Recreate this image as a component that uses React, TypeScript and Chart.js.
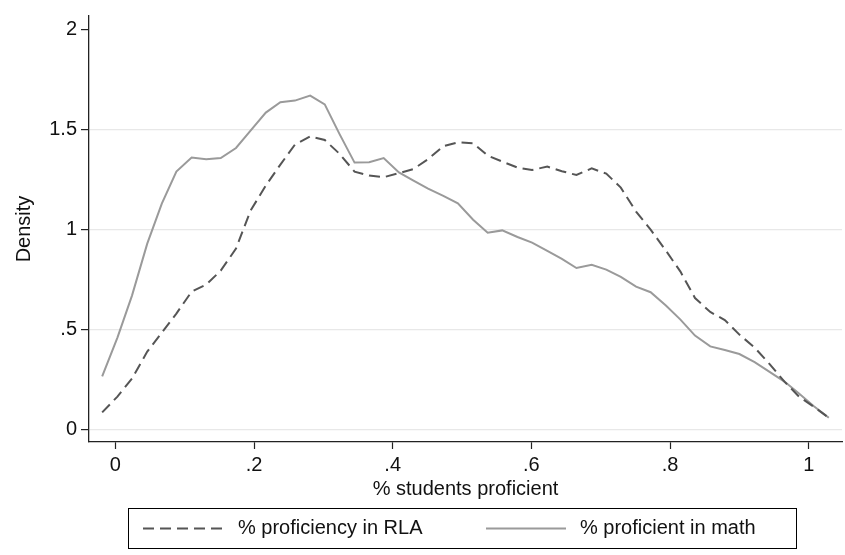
import React, { useEffect, useRef } from "react";
import { Chart, registerables } from "chart.js";

Chart.register(...registerables);

// Kernel density estimates evaluated on a common 50-point grid
const evalPoints = [
  -0.019, 0.003, 0.024, 0.046, 0.067, 0.088, 0.110, 0.131, 0.152, 0.174,
  0.195, 0.217, 0.238, 0.259, 0.281, 0.302, 0.323, 0.345, 0.366, 0.387,
  0.409, 0.430, 0.451, 0.473, 0.494, 0.516, 0.537, 0.558, 0.580, 0.601,
  0.623, 0.644, 0.665, 0.687, 0.708, 0.729, 0.751, 0.772, 0.794, 0.815,
  0.836, 0.858, 0.879, 0.900, 0.922, 0.943, 0.965, 0.986, 1.007, 1.029,
];

const rlaDensity = [
  0.086, 0.165, 0.255, 0.39, 0.485, 0.58, 0.69, 0.725, 0.795, 0.905,
  1.095, 1.22, 1.325, 1.425, 1.466, 1.448, 1.38, 1.29, 1.27, 1.262,
  1.282, 1.303, 1.352, 1.417, 1.436, 1.432, 1.37, 1.34, 1.31, 1.298,
  1.315, 1.292, 1.273, 1.306, 1.28, 1.21, 1.09, 1.0, 0.895, 0.79,
  0.658, 0.588, 0.548, 0.475, 0.41, 0.33, 0.24, 0.165, 0.115, 0.059,
];

const mathDensity = [
  0.266, 0.46, 0.67, 0.93, 1.13, 1.29, 1.36, 1.352, 1.358, 1.408,
  1.495, 1.585, 1.637, 1.645, 1.67, 1.626, 1.48, 1.335, 1.337, 1.358,
  1.286, 1.245, 1.205, 1.169, 1.131, 1.049, 0.984, 0.996, 0.963, 0.935,
  0.894, 0.854, 0.808, 0.824, 0.8, 0.764, 0.715, 0.687, 0.62, 0.55,
  0.47, 0.416, 0.398, 0.378, 0.337, 0.29, 0.24, 0.18, 0.118, 0.059,
];

const xTickValues = [0, 0.2, 0.4, 0.6, 0.8, 1];
const xTickLabels = ["0", ".2", ".4", ".6", ".8", "1"];
const yTickValues = [0, 0.5, 1, 1.5, 2];
const yTickLabels = ["0", ".5", "1", "1.5", "2"];

const seriesLabels = ["% proficiency in RLA", "% proficient in math"];
const xAxisTitle = "% students proficient";
const yAxisTitle = "Density";

const FONT_FAMILY = "'Liberation Sans', Arial, Helvetica, sans-serif";
const TEXT_COLOR = "#111";
const AXIS_COLOR = "#222";

// Boxed legend under the plot, styled from each dataset's own line settings
const boxedLegend = {
  id: "boxedLegend",
  afterDraw(chart: any) {
    const { ctx } = chart;
    const box = { left: 128, top: 508, width: 668, height: 40 };
    const entries = [
      { x0: 143, x1: 227, tx: 238 },
      { x0: 486, x1: 566, tx: 580 },
    ];
    ctx.save();
    ctx.strokeStyle = "#000";
    ctx.lineWidth = 1;
    ctx.setLineDash([]);
    ctx.strokeRect(box.left + 0.5, box.top + 0.5, box.width, box.height);
    const midY = box.top + box.height / 2 + 0.5;
    chart.data.datasets.forEach((ds: any, i: number) => {
      const e = entries[i];
      if (!e) return;
      ctx.beginPath();
      ctx.setLineDash(ds.borderDash || []);
      ctx.strokeStyle = ds.borderColor;
      ctx.lineWidth = ds.borderWidth;
      ctx.moveTo(e.x0, midY);
      ctx.lineTo(e.x1, midY);
      ctx.stroke();
      ctx.setLineDash([]);
      ctx.fillStyle = TEXT_COLOR;
      ctx.font = `20px ${FONT_FAMILY}`;
      ctx.textAlign = "left";
      ctx.textBaseline = "middle";
      ctx.fillText(ds.label, e.tx, midY);
    });
    ctx.restore();
  },
};

export default function App() {
  const canvasRef = useRef<HTMLCanvasElement | null>(null);

  useEffect(() => {
    const canvas = canvasRef.current;
    if (!canvas) return;

    const chart = new Chart(canvas, {
      type: "line",
      data: {
        datasets: [
          {
            label: seriesLabels[0],
            data: evalPoints.map((x, i) => ({ x, y: rlaDensity[i] })),
            borderColor: "#555555",
            borderWidth: 2,
            borderDash: [11, 6],
            pointRadius: 0,
            tension: 0,
            fill: false,
          },
          {
            label: seriesLabels[1],
            data: evalPoints.map((x, i) => ({ x, y: mathDensity[i] })),
            borderColor: "#9a9a9a",
            borderWidth: 2,
            pointRadius: 0,
            tension: 0,
            fill: false,
          },
        ],
      },
      options: {
        responsive: false,
        animation: false,
        events: [],
        layout: { padding: { top: 7, right: 3, bottom: 53, left: 0 } },
        plugins: {
          legend: { display: false },
          tooltip: { enabled: false },
        },
        scales: {
          x: {
            type: "linear",
            min: -0.038,
            max: 1.048,
            afterBuildTicks: (scale: any) => {
              scale.ticks = xTickValues.map((v) => ({ value: v }));
            },
            afterFit: (scale: any) => {
              scale.height = 60;
            },
            ticks: {
              autoSkip: false,
              maxRotation: 0,
              padding: 4,
              color: TEXT_COLOR,
              font: { family: FONT_FAMILY, size: 20 },
              callback: (value: any) => {
                const idx = xTickValues.indexOf(Number(value));
                return idx >= 0 ? xTickLabels[idx] : "";
              },
            },
            grid: {
              drawOnChartArea: false,
              drawTicks: true,
              tickLength: 7,
              tickColor: AXIS_COLOR,
              tickWidth: 1.2,
            },
            border: { display: true, color: AXIS_COLOR, width: 1.3 },
            title: {
              display: true,
              text: xAxisTitle,
              color: TEXT_COLOR,
              font: { family: FONT_FAMILY, size: 20 },
              padding: { top: 0, bottom: 1 },
            },
          },
          y: {
            type: "linear",
            min: -0.062,
            max: 2.068,
            afterBuildTicks: (scale: any) => {
              scale.ticks = yTickValues.map((v) => ({ value: v }));
            },
            afterFit: (scale: any) => {
              scale.width = 89;
            },
            ticks: {
              autoSkip: false,
              padding: 4,
              color: TEXT_COLOR,
              font: { family: FONT_FAMILY, size: 20 },
              callback: (value: any) => {
                const idx = yTickValues.indexOf(Number(value));
                return idx >= 0 ? yTickLabels[idx] : "";
              },
            },
            grid: {
              drawOnChartArea: true,
              drawTicks: true,
              tickLength: 8,
              tickColor: AXIS_COLOR,
              tickWidth: 1.2,
              lineWidth: 1.2,
              color: (ctx: any) =>
                ctx.tick && ctx.tick.value === 2 ? "rgba(0,0,0,0)" : "#e8e8e8",
            },
            border: { display: true, color: AXIS_COLOR, width: 1.3 },
            title: {
              display: true,
              text: yAxisTitle,
              color: TEXT_COLOR,
              font: { family: FONT_FAMILY, size: 20 },
              padding: { top: 12, bottom: 0 },
            },
          },
        },
      },
      plugins: [boxedLegend],
    } as any);

    return () => {
      chart.destroy();
    };
  }, []);

  return (
    <div
      style={{
        position: "fixed",
        left: 0,
        top: 0,
        width: 845,
        height: 555,
        background: "#fff",
      }}
    >
      <canvas ref={canvasRef} width={845} height={555} style={{ display: "block" }} />
    </div>
  );
}
